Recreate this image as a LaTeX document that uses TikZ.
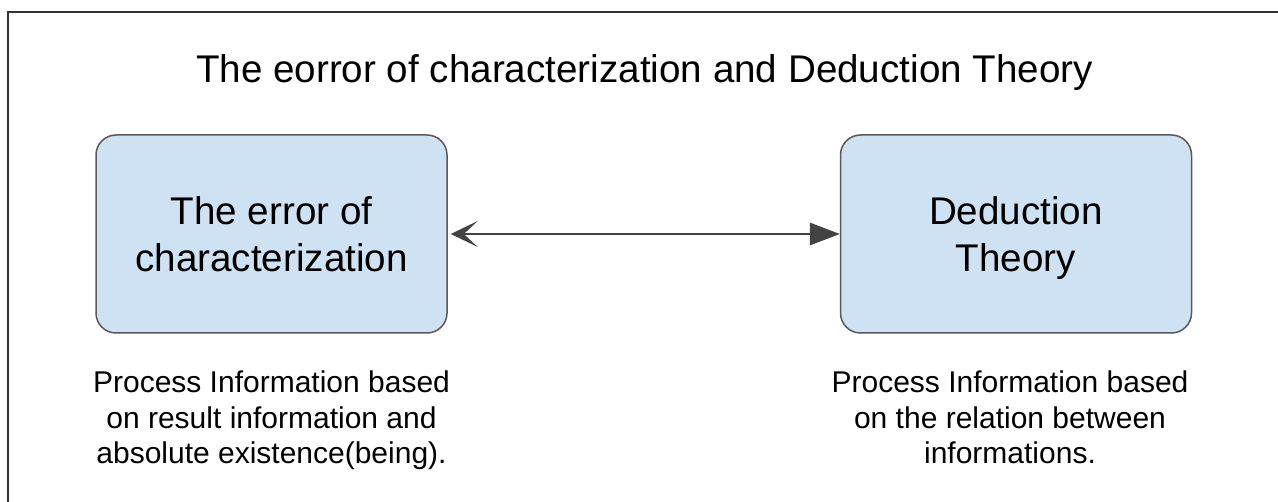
\documentclass[tikz,border=0pt]{standalone}
\usepackage{fontspec}
\setmainfont{Liberation Sans}
\usetikzlibrary{arrows.meta}
\definecolor{boxfill}{HTML}{CFE2F3}
\definecolor{boxline}{HTML}{595959}
\definecolor{arrowgray}{HTML}{434343}
\definecolor{framegray}{HTML}{333333}
\tikzset{
  conceptbox/.style={draw=boxline, line width=1.5pt, fill=boxfill,
    rounded corners=20pt, minimum width=351pt, minimum height=198pt,
    align=center, inner sep=0pt, text depth=0pt,
    font=\fontsize{38.6}{47}\selectfont},
  notetext/.style={align=center, inner sep=0pt, anchor=north,
    font=\fontsize{30}{35.5}\selectfont},
  titletext/.style={inner sep=0pt, anchor=base,
    font=\fontsize{38.6}{46}\selectfont},
  link/.style={draw=arrowgray, line width=2.8pt,
    {Stealth[length=27pt, width=26pt, inset=14pt, line width=0pt]}-{Triangle[length=30pt, width=23pt, line width=0pt]}}
}
\begin{document}
\begin{tikzpicture}[x=1pt, y=-1pt]
  \useasboundingbox (0,0) rectangle (1278,502);
  \fill[white] (0,0) rectangle (1278,502);
  % outer frame, open at the right and bottom
  \draw[framegray, line width=2pt] (8,510) -- (8,12) -- (1290,12);
  % heading
  \node[titletext] (title) at (644.5,83) {The eorror of characterization and Deduction Theory};
  % the two concepts
  \node[conceptbox] (err) at (271.5,234) {The error of\\characterization};
  \node[conceptbox] (ded) at (1016,234) {Deduction\\Theory};
  % two-way relation
  \path (err.east) ++(3pt,0) coordinate (l);
  \draw[link] (l) -- (ded.west);
  % descriptions
  \node[notetext] (errnote) at (271.5,371) {Process Information based\\on result information and\\absolute existence(being).};
  \node[notetext] (dednote) at (1010,371) {Process Information based\\on the relation between\\informations.};
\end{tikzpicture}
\end{document}
